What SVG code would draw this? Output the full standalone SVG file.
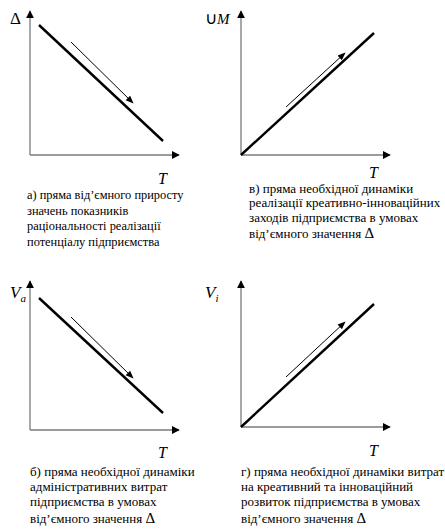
<svg xmlns="http://www.w3.org/2000/svg" width="445" height="530" viewBox="0 0 445 530">
<defs>
<marker id="ah" viewBox="0 0 10 10" refX="9" refY="5" markerWidth="8" markerHeight="8" markerUnits="userSpaceOnUse" orient="auto"><path d="M0,0 L10,5 L0,10 z" fill="#000"/></marker>
<marker id="ta" viewBox="0 0 10 10" refX="9" refY="5" markerWidth="8" markerHeight="8" markerUnits="userSpaceOnUse" orient="auto"><path d="M0,1 L10,5 L0,9 z" fill="#000"/></marker>
</defs>
<style>
.ax{stroke:#7a7a7a;stroke-width:1.3;fill:none;marker-end:url(#ah)}
.th{stroke:#000;stroke-width:2.4;fill:none}
.tn{stroke:#000;stroke-width:1;fill:none;marker-end:url(#ta)}
text{font-family:"Liberation Serif","Times New Roman",serif;fill:#000}
.lb{font-size:17px}
.tt{font-size:16px;font-style:italic}
.it{font-style:italic}
.cap{font-size:13px}
.capa{font-size:12.4px}
</style>
<rect width="445" height="530" fill="#fff"/>
<g id="connectors">
<line class="ax" x1="30" y1="155" x2="30" y2="11"/>
<line class="ax" x1="30" y1="155" x2="179" y2="155"/>
<line class="th" x1="39" y1="25" x2="163" y2="141"/>
<line class="tn" x1="71" y1="42" x2="133" y2="103"/>
<line class="ax" x1="241" y1="155" x2="241" y2="11"/>
<line class="ax" x1="241" y1="155" x2="390" y2="155"/>
<line class="th" x1="241" y1="155" x2="374" y2="33"/>
<line class="tn" x1="286" y1="107" x2="345" y2="53"/>
<line class="ax" x1="30" y1="430" x2="30" y2="281"/>
<line class="ax" x1="30" y1="430" x2="179" y2="430"/>
<line class="th" x1="39" y1="298" x2="163" y2="413"/>
<line class="tn" x1="71" y1="317" x2="133" y2="378"/>
<line class="ax" x1="241" y1="427" x2="241" y2="281"/>
<line class="ax" x1="241" y1="427" x2="390" y2="427"/>
<line class="th" x1="241" y1="427" x2="374" y2="304"/>
<line class="tn" x1="286" y1="377" x2="345" y2="322"/>
</g>
<g id="panel-a">
<text class="lb" x="10" y="24">Δ</text>
<text class="tt" x="158" y="184">T</text>
<text class="capa" x="27" y="199">а) пряма від’ємного приросту</text>
<text class="capa" x="27" y="215">значень показників</text>
<text class="capa" x="27" y="230">раціональності реалізації</text>
<text class="capa" x="27" y="246">потенціалу підприємства</text>
</g>
<g id="panel-v">
<text class="lb" x="205" y="24">∪<tspan class="it" font-size="15">M</tspan></text>
<text class="tt" x="369" y="178">T</text>
<text class="cap" x="249" y="193">в) пряма необхідної динаміки</text>
<text class="cap" x="249" y="207">реалізації креативно-інноваційних</text>
<text class="cap" x="249" y="222">заходів підприємства в умовах</text>
<text class="cap" x="249" y="238">від’ємного значення <tspan font-size="15">Δ</tspan></text>
</g>
<g id="panel-b">
<text class="lb it" x="10" y="298">V<tspan font-size="11" dy="4">a</tspan></text>
<text class="tt" x="158" y="458">T</text>
<text class="cap" x="30" y="476">б) пряма необхідної динаміки</text>
<text class="cap" x="30" y="491">адміністративних витрат</text>
<text class="cap" x="30" y="506">підприємства в умовах</text>
<text class="cap" x="30" y="523">від’ємного значення <tspan font-size="15">Δ</tspan></text>
</g>
<g id="panel-g">
<text class="lb it" x="205" y="298">V<tspan font-size="11" dy="4">i</tspan></text>
<text class="tt" x="369" y="456">T</text>
<text class="cap" x="241" y="476">г) пряма необхідної динаміки витрат</text>
<text class="cap" x="241" y="491">на креативний та інноваційний</text>
<text class="cap" x="241" y="506">розвиток  підприємства в умовах</text>
<text class="cap" x="241" y="523">від’ємного значення <tspan font-size="15">Δ</tspan></text>
</g>
</svg>
